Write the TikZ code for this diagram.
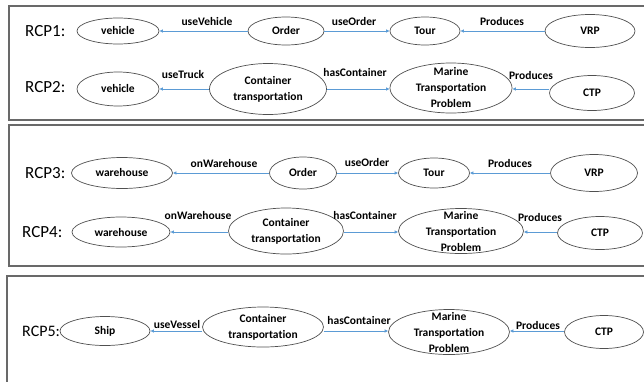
\documentclass[tikz,border=0pt]{standalone}
\usepackage{fontspec}
\setmainfont{Carlito}[Ligatures={NoCommon}]
\usetikzlibrary{shapes.geometric,arrows.meta}
\definecolor{arrblue}{RGB}{91,155,213}
\definecolor{ellgray}{RGB}{80,80,80}
\definecolor{boxgray}{RGB}{105,105,105}
\begin{document}
\begin{tikzpicture}[x=1pt,y=-1pt,
  ell/.style={draw=ellgray,line width=0.7pt,shape=ellipse,inner sep=0pt,
    font=\fontsize{11.5}{16}\selectfont\bfseries,align=center},
  mtext/.style={font=\fontsize{11.5}{16}\selectfont\bfseries,align=center,inner sep=0pt},
  lbl/.style={font=\fontsize{11.5}{13}\selectfont\bfseries,inner sep=0pt},
  rcp/.style={font=\fontsize{17}{20}\selectfont,inner sep=0pt,anchor=west},
  arr/.style={draw=arrblue,line width=0.9pt,-{Latex[length=3.5pt,width=3.5pt]}},
  frame/.style={draw=boxgray,line width=1.3pt}]
\useasboundingbox (0,0) rectangle (644,381);
\clip (0,0) rectangle (644,381);
\fill[white] (0,0) rectangle (644,381);
% frames
\draw[frame] (9,6) rectangle (670,120);
\draw[frame] (9,125) rectangle (670,266);
\draw[frame] (7,276) rectangle (670,420);

% RCP1
\node[rcp] (r1) at (25,31) {RCP1:};
\node[ell,minimum width=82pt,minimum height=26pt] (veh1) at (118,31) {vehicle};
\node[ell,minimum width=76pt,minimum height=28pt] (ord1) at (286,31) {Order};
\node[ell,minimum width=70pt,minimum height=28pt] (tour1) at (425,31) {Tour};
\node[ell,minimum width=90pt,minimum height=33pt] (vrp1) at (590,31) {VRP};
\draw[arr] (ord1.west) -- (veh1.east);
\draw[arr] (ord1.east) -- (tour1.west);
\draw[arr] (vrp1.west) -- (tour1.east);
\node[lbl] (l1a) at (207,22) {useVehicle};
\node[lbl] (l1b) at (354,22) {useOrder};
\node[lbl] (l1c) at (502,22) {Produces};

% RCP2
\node[rcp] (r2) at (25,87) {RCP2:};
\node[ell,minimum width=82pt,minimum height=34pt] (veh2) at (118,89) {vehicle};
\node[ell,minimum width=117pt,minimum height=51pt,label={[mtext]center:{Container\\transportation}}] (con2) at (268,89) {};
\node[ell,minimum width=122pt,minimum height=50pt,label={[mtext]center:{Marine\\Transportation\\Problem}}] (mar2) at (451,88) {};
\node[ell,minimum width=85pt,minimum height=35pt] (ctp2) at (592,93) {CTP};
\draw[arr] (con2.west) -- (veh2.east);
\draw[arr] (con2.east) -- (mar2.west |- con2.east);
\draw[arr] (ctp2.west |- con2.east) -- (mar2.east |- con2.east);
\node[lbl] (l2a) at (183,75) {useTruck};
\node[lbl] (l2b) at (355,73) {hasContainer};
\node[lbl] (l2c) at (531,76) {Produces};

% RCP3
\node[rcp] (r3) at (25,173) {RCP3:};
\node[ell,minimum width=101pt,minimum height=31pt] (wh3) at (122,173) {warehouse};
\node[ell,minimum width=67pt,minimum height=32pt] (ord3) at (303,173) {Order};
\node[ell,minimum width=71pt,minimum height=30pt] (tour3) at (434,173) {Tour};
\node[ell,minimum width=87pt,minimum height=37pt] (vrp3) at (594,173) {VRP};
\draw[arr] (ord3.west) -- (wh3.east);
\draw[arr] (ord3.east) -- (tour3.west);
\draw[arr] (vrp3.west) -- (tour3.east);
\node[lbl] (l3a) at (224,164) {onWarehouse};
\node[lbl] (l3b) at (367,163) {useOrder};
\node[lbl] (l3c) at (510,164) {Produces};

% RCP4
\node[rcp] (r4) at (22,232) {RCP4:};
\node[ell,minimum width=98pt,minimum height=30pt] (wh4) at (121,232) {warehouse};
\node[ell,minimum width=115pt,minimum height=46pt,label={[mtext]center:{Container\\transportation}}] (con4) at (286,231) {};
\node[ell,minimum width=125pt,minimum height=45pt,label={[mtext]center:{Marine\\Transportation\\Problem}}] (mar4) at (461,231) {};
\node[ell,minimum width=85pt,minimum height=33pt] (ctp4) at (600,233) {CTP};
\draw[arr] (con4.west |- wh4.east) -- (wh4.east);
\draw[arr] (con4.east |- wh4.east) -- (mar4.west |- wh4.east);
\draw[arr] (ctp4.west |- wh4.east) -- (mar4.east |- wh4.east);
\node[lbl] (l4a) at (198,216) {onWarehouse};
\node[lbl] (l4b) at (365,216) {hasContainer};
\node[lbl] (l4c) at (540,218) {Produces};

% RCP5
\node[rcp,font=\fontsize{16}{20}\selectfont] (r5) at (22,331) {RCP5:};
\node[ell,minimum width=90pt,minimum height=29pt] (ship5) at (105,331) {Ship};
\node[ell,minimum width=121pt,minimum height=40pt,label={[mtext]center:{Container\\transportation}}] (con5) at (263,327) {};
\node[ell,minimum width=121pt,minimum height=45pt,label={[mtext]center:{Marine\\Transportation\\Problem}}] (mar5) at (449,332) {};
\node[ell,minimum width=79pt,minimum height=33pt] (ctp5) at (604,332) {CTP};
\draw[arr] (con5.west |- ship5.east) -- (ship5.east);
\draw[arr] (con5.east |- ship5.east) -- (mar5.west |- ship5.east);
\draw[arr] (ctp5.west |- ship5.east) -- (mar5.east |- ship5.east);
\node[lbl] (l5a) at (177,324) {useVessel};
\node[lbl] (l5b) at (359,320) {hasContainer};
\node[lbl] (l5c) at (538,325) {Produces};
\end{tikzpicture}
\end{document}
